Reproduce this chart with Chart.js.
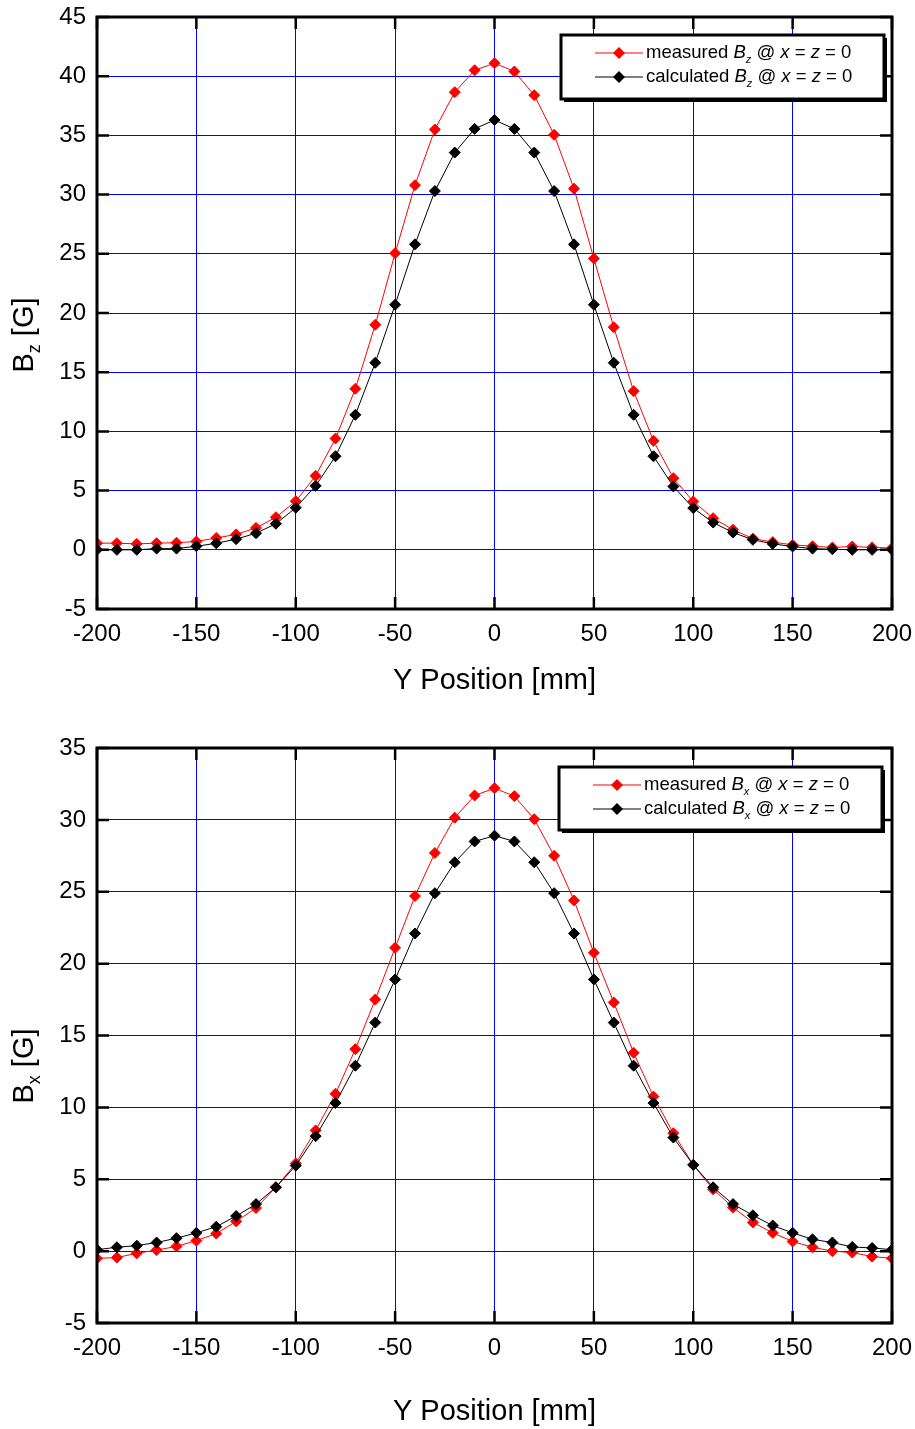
<!DOCTYPE html>
<html lang="en">
<head>
    <meta charset="UTF-8">
    <title>Bz and Bx along Y</title>
    <script src="https://cdn.jsdelivr.net/npm/chart.js"></script>
    <style>
        html, body { margin: 0; padding: 0; background: #fff; overflow: hidden; }
        .box { position: absolute; left: 0; width: 915px; }
    </style>
</head>
<body>
    <div class="box" style="top:0px;"><canvas id="bz-chart" width="915" height="715"></canvas></div>
    <div class="box" style="top:731px;"><canvas id="bx-chart" width="915" height="698"></canvas></div>

    <script>
        // Y position of the probe, mm
        const yPos = [-200, -190, -180, -170, -160, -150, -140, -130, -120, -110, -100, -90, -80, -70, -60, -50, -40, -30, -20, -10,
                      0, 10, 20, 30, 40, 50, 60, 70, 80, 90, 100, 110, 120, 130, 140, 150, 160, 170, 180, 190, 200];

        // Bz [G]
        const bzMeasured = [0.56, 0.56, 0.5, 0.56, 0.6, 0.7, 1.0, 1.3, 1.85, 2.75, 4.1, 6.25, 9.4, 13.6, 19.0, 25.05, 30.8, 35.5, 38.65, 40.5,
                            41.1, 40.4, 38.4, 35.05, 30.5, 24.6, 18.8, 13.4, 9.2, 6.05, 4.08, 2.67, 1.7, 0.95, 0.65, 0.42, 0.3, 0.2, 0.28, 0.2, 0.15];
        const bzCalculated = [0.0, 0.0, 0.0, 0.1, 0.1, 0.3, 0.55, 0.9, 1.4, 2.2, 3.55, 5.4, 7.9, 11.4, 15.8, 20.7, 25.8, 30.3, 33.55, 35.55,
                              36.3, 35.55, 33.55, 30.3, 25.8, 20.7, 15.8, 11.4, 7.9, 5.35, 3.52, 2.3, 1.46, 0.85, 0.5, 0.28, 0.1, 0.05, 0.0, 0.0, 0.0];

        // Bx [G]
        const bxMeasured = [-0.5, -0.45, -0.15, 0.07, 0.33, 0.73, 1.22, 2.07, 3.0, 4.44, 6.1, 8.4, 10.95, 14.05, 17.5, 21.1, 24.7, 27.7, 30.15, 31.7,
                            32.2, 31.65, 30.05, 27.5, 24.4, 20.75, 17.3, 13.8, 10.75, 8.2, 6.0, 4.3, 3.04, 2.0, 1.27, 0.67, 0.27, 0.0, -0.1, -0.38, -0.5];
        const bxCalculated = [0.1, 0.27, 0.38, 0.6, 0.9, 1.27, 1.7, 2.44, 3.27, 4.44, 5.95, 8.0, 10.3, 12.9, 15.9, 18.9, 22.1, 24.9, 27.05, 28.5,
                              28.9, 28.5, 27.05, 24.9, 22.1, 18.9, 15.9, 12.9, 10.3, 7.9, 6.0, 4.44, 3.27, 2.49, 1.78, 1.27, 0.82, 0.6, 0.29, 0.22, 0.1];

        const FONT = 'Arial, "Liberation Sans", sans-serif';

        // draw a run of text pieces: [text, italic, subscript]
        function drawRich(ctx, x, y, pieces, size) {
            let cx = x;
            pieces.forEach(([txt, italic, sub]) => {
                const fs = sub ? Math.round(size * 0.62) : size;
                ctx.font = (italic ? 'italic ' : '') + fs + 'px ' + FONT;
                ctx.fillText(txt, cx, sub ? y + size * 0.35 : y);
                cx += ctx.measureText(txt).width;
            });
            return cx - x;
        }

        function richWidth(ctx, pieces, size) {
            let w = 0;
            pieces.forEach(([txt, italic, sub]) => {
                const fs = sub ? Math.round(size * 0.62) : size;
                ctx.font = (italic ? 'italic ' : '') + fs + 'px ' + FONT;
                w += ctx.measureText(txt).width;
            });
            return w;
        }

        // black box frame with inward ticks, axis titles and the boxed legend
        const framePlugin = {
            id: 'frame',
            afterDraw(chart, args, opts) {
                const ctx = chart.ctx;
                const a = chart.chartArea;
                const xs = chart.scales.x, ys = chart.scales.y;
                ctx.save();
                ctx.strokeStyle = '#000';
                ctx.lineWidth = 2.5;
                ctx.beginPath();
                xs.ticks.forEach(t => {
                    const px = xs.getPixelForValue(t.value);
                    ctx.moveTo(px, a.bottom); ctx.lineTo(px, a.bottom - 12);
                    ctx.moveTo(px, a.top); ctx.lineTo(px, a.top + 12);
                });
                ys.ticks.forEach(t => {
                    const py = ys.getPixelForValue(t.value);
                    ctx.moveTo(a.left, py); ctx.lineTo(a.left + 12, py);
                    ctx.moveTo(a.right, py); ctx.lineTo(a.right - 12, py);
                });
                ctx.stroke();
                ctx.lineWidth = 3;
                ctx.strokeRect(a.left, a.top, a.right - a.left, a.bottom - a.top);

                // axis titles
                ctx.fillStyle = '#000';
                ctx.textBaseline = 'middle';
                ctx.textAlign = 'left';
                ctx.font = '29px ' + FONT;
                const xt = 'Y Position [mm]';
                ctx.fillText(xt, (a.left + a.right) / 2 - ctx.measureText(xt).width / 2, 681);

                ctx.save();
                ctx.translate(25, 335);
                ctx.rotate(-Math.PI / 2);
                const yPieces = [['B', false, false], [opts.sub, false, true], [' [G]', false, false]];
                drawRich(ctx, -richWidth(ctx, yPieces, 29) / 2, 0, yPieces, 29);
                ctx.restore();

                // legend
                const L = opts.legend;
                ctx.fillStyle = '#000';
                ctx.fillRect(L.x + 3, L.y + 3, L.w, L.h);
                ctx.fillStyle = '#fff';
                ctx.fillRect(L.x, L.y, L.w, L.h);
                ctx.lineWidth = 3;
                ctx.strokeStyle = '#000';
                ctx.strokeRect(L.x, L.y, L.w, L.h);
                L.rows.forEach((row, i) => {
                    const ry = L.y + 18 + i * 24;
                    ctx.strokeStyle = row.color;
                    ctx.lineWidth = 1;
                    ctx.beginPath();
                    ctx.moveTo(L.x + 34, ry); ctx.lineTo(L.x + 82, ry);
                    ctx.stroke();
                    ctx.fillStyle = row.color;
                    ctx.beginPath();
                    ctx.moveTo(L.x + 58, ry - 6); ctx.lineTo(L.x + 64, ry);
                    ctx.lineTo(L.x + 58, ry + 6); ctx.lineTo(L.x + 52, ry);
                    ctx.closePath();
                    ctx.fill();
                    ctx.fillStyle = '#000';
                    drawRich(ctx, L.x + 85, ry, row.pieces, 18.5);
                });
                ctx.restore();
            }
        };

        function legendRows(sub) {
            return [
                { color: '#ff0000', pieces: [['measured ', false, false], ['B', true, false], [sub, true, true], [' @ ', false, false],
                    ['x', true, false], [' = ', false, false], ['z', true, false], [' = 0', false, false]] },
                { color: '#000000', pieces: [['calculated ', false, false], ['B', true, false], [sub, true, true], [' @ ', false, false],
                    ['x', true, false], [' = ', false, false], ['z', true, false], [' = 0', false, false]] }
            ];
        }

        function makeChart(id, measured, calculated, yMax, sub, legend) {
            const ds = (vals, color) => ({
                data: yPos.map((x, i) => ({ x: x, y: vals[i] })),
                borderColor: color,
                backgroundColor: color,
                borderWidth: 1,
                pointStyle: 'rectRot',
                pointRadius: 5.5,
                pointBorderWidth: 1,
                tension: 0
            });
            return new Chart(document.getElementById(id).getContext('2d'), {
                type: 'line',
                data: { datasets: [ds(calculated, '#000000'), ds(measured, '#ff0000')] },
                options: {
                    responsive: false,
                    animation: false,
                    layout: { padding: { top: 17, right: 23, left: 0, bottom: 0 } },
                    plugins: {
                        legend: { display: false },
                        tooltip: { enabled: false },
                        frame: { sub: sub, legend: legend }
                    },
                    scales: {
                        x: {
                            type: 'linear', min: -200, max: 200,
                            ticks: { stepSize: 50, color: '#000', font: { family: FONT, size: 24 }, padding: 11, maxRotation: 0 },
                            grid: { color: '#0000ff', lineWidth: 1, drawTicks: false },
                            border: { display: false },
                            afterFit(s) { s.height = 106; s.paddingLeft = 0; s.paddingRight = 0; }
                        },
                        y: {
                            min: -5, max: yMax,
                            ticks: { stepSize: 5, color: '#000', font: { family: FONT, size: 24 }, padding: 11 },
                            grid: { color: '#0000ff', lineWidth: 1, drawTicks: false },
                            border: { display: false },
                            afterFit(s) { s.width = 97; s.paddingTop = 0; s.paddingBottom = 0; }
                        }
                    }
                },
                plugins: [framePlugin]
            });
        }

        makeChart('bz-chart', bzMeasured, bzCalculated, 45, 'z',
            { x: 561, y: 35, w: 323, h: 64, rows: legendRows('z') });
        makeChart('bx-chart', bxMeasured, bxCalculated, 35, 'x',
            { x: 559, y: 36, w: 323, h: 63, rows: legendRows('x') });
    </script>
</body>
</html>
